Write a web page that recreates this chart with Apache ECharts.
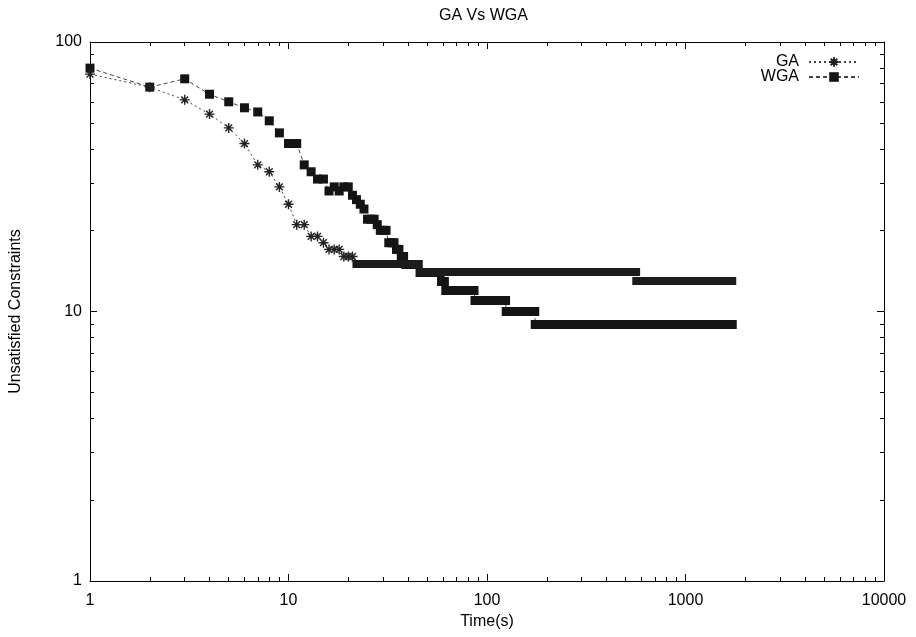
<!DOCTYPE html>
<html><head><meta charset="utf-8">
<script src="https://cdn.jsdelivr.net/npm/echarts@6/dist/echarts.min.js"></script>
<style>html,body{margin:0;padding:0;background:#fff}#c{width:916px;height:637px}</style>
</head><body><div id="c"></div>
<script>
const chartTitle = 'GA Vs WGA';
const xName = 'Time(s)';
const yName = 'Unsatisfied Constraints';
const seriesNames = ['GA', 'WGA'];
const xRange = [1, 10000];
const yRange = [1, 100];

// GA: sampled points (time s, unsatisfied constraints), then flat runs [from, to, value]
const gaTimes = [1,2,3,4,5,6,7,8,9,10,11,12,13,14,15,16,17,18,19,20,21];
const gaValues = [76,68,61,54,48,42,35,33,29,25,21,21,19,19,18,17,17,17,16,16,16];
const gaSteps = [[22,45,15],[46,564,14],[565,1720,13]];

// WGA
const wgaTimes = [1,2,3,4,5,6,7,8,9,10,11,12,13,14,15,16,17,18,19,20,21,22,23,24,25,26,27,28,29,30,31,32,33,34,35,36,37,38];
const wgaValues = [80,68,73,64,60,57,55,51,46,42,42,35,33,31,31,28,29,28,29,29,27,26,25,24,22,22,22,21,20,20,20,18,18,18,17,17,16,16];
const wgaSteps = [[39,45,15],[46,58,14],[59,61,13],[62,86,12],[87,124,11],[125,174,10],[175,1720,9]];

const FONT = 'Liberation Sans, Arial, Helvetica, sans-serif';
const STAR = 'path://M5 0V10M0 5H10M1.6 1.6L8.4 8.4M8.4 1.6L1.6 8.4';

function lineData(times, values, steps) {
  const d = times.map((t, i) => [t, values[i]]);
  steps.forEach(s => {
    d.push({value: [s[0], s[2]], symbol: 'none'});
    d.push({value: [s[1], s[2]], symbol: 'none'});
  });
  return d;
}
function stepData(steps) {
  return steps.map(s => ({coords: [[s[0], s[2]], [s[1], s[2]]]}));
}
function fmt(v) { return String(Math.round(v)); }

function axisBase(pos, showLabel) {
  return {
    type: 'log', logBase: 10, position: pos,
    axisLine: {show: true, onZero: false, lineStyle: {color: '#000', width: 1}},
    axisTick: {show: true, inside: true, length: 7, lineStyle: {color: '#000', width: 1}},
    minorTick: {show: true, splitNumber: 9, length: 4, lineStyle: {color: '#000', width: 1}},
    splitLine: {show: false}, minorSplitLine: {show: false},
    axisLabel: {show: showLabel, color: '#000', fontSize: 16, fontFamily: FONT, formatter: fmt}
  };
}

const chart = echarts.init(document.getElementById('c'), null, {renderer: 'canvas'});
const xMain = Object.assign(axisBase('bottom', true), {min: xRange[0], max: xRange[1], name: xName,
  nameLocation: 'middle', nameGap: 33, nameTextStyle: {color: '#000', fontSize: 16, fontFamily: FONT}});
xMain.axisLabel.margin = 12;
const xTop = Object.assign(axisBase('top', false), {min: xRange[0], max: xRange[1]});
const yMain = Object.assign(axisBase('left', true), {min: yRange[0], max: yRange[1], name: yName,
  nameLocation: 'middle', nameGap: 66, nameRotate: 90, nameTextStyle: {color: '#000', fontSize: 16, fontFamily: FONT}});
yMain.axisLabel.margin = 8;
const yRight = Object.assign(axisBase('right', false), {min: yRange[0], max: yRange[1]});

chart.setOption({
  animation: false,
  backgroundColor: '#fff',
  title: {text: chartTitle, left: 434, top: 3,
    textStyle: {color: '#000', fontSize: 16, fontWeight: 'normal', fontFamily: FONT}},
  grid: {left: 88, right: 32, top: 42, bottom: 56, containLabel: false},
  legend: {
    data: seriesNames, orient: 'vertical', right: 51, top: 49, align: 'right',
    itemWidth: 50, itemHeight: 12, itemGap: -1,
    textStyle: {color: '#000', fontSize: 16, fontFamily: FONT, padding: [0, 5, 0, 0]}
  },
  xAxis: [xMain, xTop],
  yAxis: [yMain, yRight],
  series: [
    {type: 'line', name: seriesNames[0], xAxisIndex: 0, yAxisIndex: 0, z: 3,
      data: lineData(gaTimes, gaValues, gaSteps),
      symbol: STAR, symbolSize: 10, showAllSymbol: true,
      itemStyle: {color: '#222', borderColor: '#222', borderWidth: 1.4},
      lineStyle: {color: '#444', width: 1, type: [2, 3]}},
    {type: 'line', name: seriesNames[1], xAxisIndex: 0, yAxisIndex: 0, z: 2,
      data: lineData(wgaTimes, wgaValues, wgaSteps),
      symbol: 'rect', symbolSize: 9, showAllSymbol: true,
      itemStyle: {color: '#141414'},
      lineStyle: {color: '#444', width: 1, type: [4, 3]}},
    {type: 'lines', name: 'wgaSteps', coordinateSystem: 'cartesian2d', xAxisIndex: 0, yAxisIndex: 0,
      silent: true, z: 4, data: stepData(wgaSteps),
      lineStyle: {color: '#141414', width: 9, cap: 'square', opacity: 1}},
    {type: 'lines', name: 'gaSteps', coordinateSystem: 'cartesian2d', xAxisIndex: 0, yAxisIndex: 0,
      silent: true, z: 5, data: stepData(gaSteps),
      lineStyle: {color: '#1c1c1c', width: 8, cap: 'square', opacity: 1}}
  ]
});
</script></body></html>
